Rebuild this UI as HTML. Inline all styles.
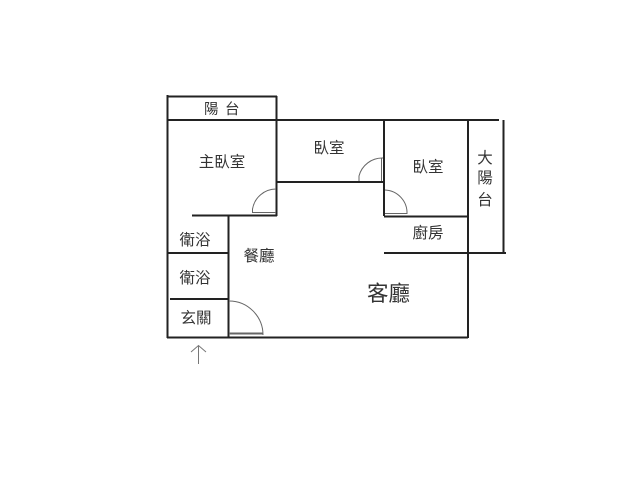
<!DOCTYPE html>
<html><head><meta charset="utf-8"><style>
html,body{margin:0;padding:0;background:#fff}
svg{display:block}
text{font-family:"Liberation Sans","Noto Sans CJK TC",sans-serif;fill:#333;text-anchor:middle}
</style></head><body>
<svg width="640" height="480" viewBox="0 0 640 480" xmlns="http://www.w3.org/2000/svg">
<rect width="640" height="480" fill="#fff"/>
<g stroke="#222" stroke-width="2" fill="none">
<path d="M167.500 95V338"/>
<path d="M167 96.500H277"/>
<path d="M276.500 96V216"/>
<path d="M167 120H499"/>
<path d="M277 182H384"/>
<path d="M384 120V216"/>
<path d="M384 216.500H468"/>
<path d="M468 120V338"/>
<path d="M503.500 120V253"/>
<path d="M384 253H506"/>
<path d="M192 215.500H277"/>
<path d="M228.500 215V338"/>
<path d="M167 253H228"/>
<path d="M170 299H228"/>
<path d="M167 337.500H468"/>
</g>
<g stroke="#666" stroke-width="1" fill="none">
<path d="M252.500 213V209A24 24 0 0 1 276 189"/>
<path d="M253 212.500H276"/>
<path d="M359 181V176A24 24 0 0 1 383 158"/>
<path d="M381.500 158V181"/>
<path d="M385 190A23 23 0 0 1 407 214"/>
<path d="M385 213.500H407"/>
<path d="M229 301A34 34 0 0 1 263 335"/>
<path d="M229 333.500H263" stroke-width="2"/>
</g>
<g stroke="#777" stroke-width="1" fill="none">
<path d="M198.500 364V346"/>
<path d="M191 352L198.500 345.500L206 352"/>
</g>
<text x="204" y="114" font-size="14.500" style="text-anchor:start">陽</text>
<text x="225" y="114" font-size="14.500" style="text-anchor:start">台</text>
<text x="222" y="167" font-size="15.500">主臥室</text>
<text x="329" y="153" font-size="15.500">臥室</text>
<text x="428" y="172" font-size="15.500">臥室</text>
<text x="485" y="163" font-size="15.500">大</text>
<text x="485" y="183" font-size="15.500">陽</text>
<text x="485" y="205" font-size="15.500">台</text>
<text x="428" y="238" font-size="15.500">廚房</text>
<text x="195" y="245" font-size="15.500">衛浴</text>
<text x="195" y="283" font-size="15.500">衛浴</text>
<text x="196" y="323" font-size="15.500">玄關</text>
<text x="259" y="261" font-size="15.500">餐廳</text>
<text x="388.500" y="301" font-size="21.500">客廳</text>
</svg>
</body></html>
